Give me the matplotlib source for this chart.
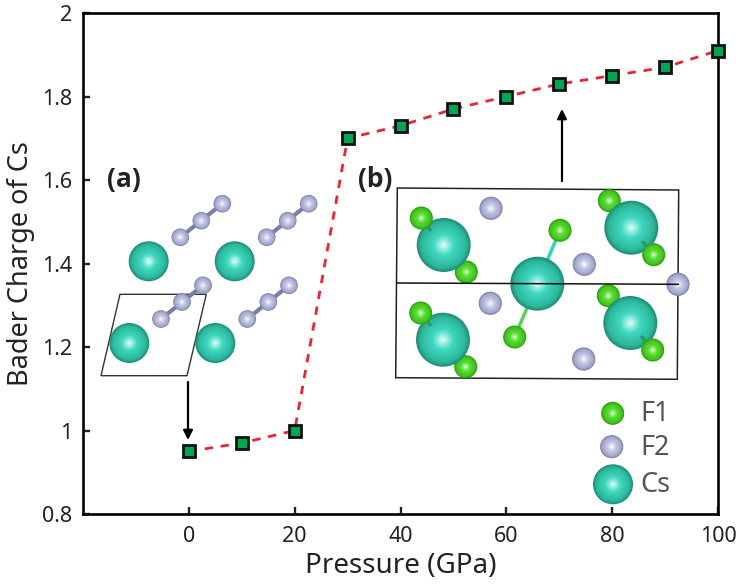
import numpy as np
import matplotlib
matplotlib.use('Agg')
import matplotlib.pyplot as plt
from matplotlib.patches import Circle, Polygon

plt.rcParams['font.family'] = ['Noto Sans', 'DejaVu Sans']

pressure = [0, 10, 20, 30, 40, 50, 60, 70, 80, 90, 100]
charge = [0.95, 0.97, 1.0, 1.7, 1.73, 1.77, 1.8, 1.83, 1.85, 1.87, 1.91]
xticks = [0, 20, 40, 60, 80, 100]
yticks = [0.8, 1, 1.2, 1.4, 1.6, 1.8, 2]
yticklabels = ['0.8', '1', '1.2', '1.4', '1.6', '1.8', '2']

# atom sketches, in image pixels
cs_a = [(148.7, 261.3), (234.7, 261.3), (129.3, 343), (215.3, 343)]
chains_a = [[(180.3, 237.3), (201.3, 220.7), (222.3, 203.7)],
            [(266.7, 237.3), (287.7, 220.7), (308.7, 203.7)],
            [(161, 319), (182, 302), (203, 285.3)],
            [(247.3, 319), (268.3, 302), (289, 285.3)]]
cell_a = [(120, 294.3), (206.3, 294.3), (187, 375.7), (101, 375.7)]
cell_b = [(397.3, 188), (678.7, 190), (677.3, 379.3), (395.7, 377.7)]
mid_b = [(396.7, 283), (678.3, 284.3)]
f1_back = [(466.3, 272), (609.3, 200.7), (465.7, 366.7), (608.3, 295.7)]
f1_front = [(421.3, 218), (653.7, 254.7), (420.7, 313), (652.7, 350)]
f1_bonded = [(560, 230.3), (514.7, 337)]
f2_b = [(491, 208.3), (584.3, 264.3), (678, 284.3), (490.3, 303.3), (583.7, 359)]
cs_b = [(443.7, 245), (537.3, 283.7), (631.3, 227.7), (443, 339.7), (630.3, 323)]

CS = ['#1f9078', '#2cb89c', '#3fd8c0', '#e8ffff']
F1 = ['#2f9a10', '#3fc418', '#5cdc38', '#e0ffd4']
F2 = ['#7f83a8', '#a2a6ca', '#c4c8e4', '#ffffff']

fig = plt.figure(figsize=(7.4, 5.87), dpi=100)
ax = fig.add_axes([83 / 740, 1 - 514 / 587, (718 - 83) / 740, (514 - 13) / 587])

ax.plot(pressure, charge, ls=(0, (3, 2.8)), color='#ee2233', lw=2, zorder=2, clip_on=False)
ax.plot(pressure, charge, ls='none', marker='s', ms=8, mfc='#00a651', mec='#111111', mew=2,
        zorder=3, clip_on=False)

ax.set_xlim(-20, 100)
ax.set_ylim(0.8, 2)
ax.set_xticks(xticks)
ax.set_yticks(yticks)
ax.set_yticklabels(yticklabels)
ax.tick_params(direction='in', length=5, width=1.7, labelsize=15.5, colors='#222222')
ax.tick_params(axis='x', pad=9)
ax.tick_params(axis='y', pad=8)
for s in ax.spines.values():
    s.set_linewidth(1.9)
ax.set_xlabel('Pressure (GPa)', fontsize=20, color='#222222', labelpad=3)
ax.set_ylabel('Bader Charge of Cs', fontsize=19.5, color='#222222', labelpad=5)

# overlay in pixel coordinates for the crystal sketches
ov = fig.add_axes([0, 0, 1, 1], facecolor='none')
ov.set_xlim(0, 740)
ov.set_ylim(587, 0)
ov.axis('off')


def atom(xy, r, cols, z):
    rgb = np.array([matplotlib.colors.to_rgb(c) for c in cols])
    stops = [1.0, 0.85, 0.4, 0.0]
    for f in np.linspace(1, 0.04, 24):
        c = [np.interp(f, stops[::-1], rgb[::-1, k]) for k in range(3)]
        ov.add_patch(Circle(xy, r * f, fc=c, ec='none', zorder=z))


def bond(p, q, color, lw, z):
    ov.plot([p[0], q[0]], [p[1], q[1]], color=color, lw=lw, zorder=z, solid_capstyle='butt')


ov.add_patch(Polygon(cell_a, closed=True, fill=False, ec='#333333', lw=1, zorder=1))
ov.add_patch(Polygon(cell_b, closed=True, fill=False, ec='#222222', lw=1.1, zorder=1))

for p in cs_a:
    atom(p, 20, CS, 2)
for ch in chains_a:
    bond(ch[0], ch[2], '#7a7ea6', 3, 3)
    for p in ch:
        atom(p, 8.8, F2, 4)

for p in f1_back:
    atom(p, 11.5, F1, 2)
bond(f1_bonded[0], cs_b[1], '#30d8b0', 2.5, 2)
bond(f1_bonded[1], cs_b[1], '#50d850', 2.5, 2)
for p in cs_b:
    atom(p, 27, CS, 3)
bond(f1_front[0], (431, 231), '#2a9a70', 2.5, 4)
bond(f1_front[2], (431, 326), '#2a9a70', 2.5, 4)
bond(f1_front[1], (642, 241), '#2a9a70', 2.5, 4)
bond(f1_front[3], (641, 336), '#2a9a70', 2.5, 4)
for p in f1_front + f1_bonded:
    atom(p, 11.5, F1, 5)
for p in f2_b:
    atom(p, 11.6, F2, 5)
ov.plot([mid_b[0][0], mid_b[1][0]], [mid_b[0][1], mid_b[1][1]], color='#111111', lw=1.1, zorder=6)

# legend
atom((612.7, 413.3), 11.5, F1, 5)
atom((611.7, 446.7), 11.6, F2, 5)
atom((613, 484.3), 20, CS, 5)
ov.text(640, 414, 'F1', fontsize=19.5, color='#555555', va='center', ha='left')
ov.text(640, 448, 'F2', fontsize=19.5, color='#555555', va='center', ha='left')
ov.text(640, 485, 'Cs', fontsize=19.5, color='#555555', va='center', ha='left')

ov.text(107, 180, '(a)', fontsize=19, fontweight='bold', family='Open Sans', color='#222222', va='center')
ov.text(358, 179, '(b)', fontsize=19, fontweight='bold', family='Open Sans', color='#222222', va='center')

ov.annotate('', xy=(188, 440), xytext=(188, 382),
            arrowprops=dict(arrowstyle='-|>', color='black', lw=1.6, mutation_scale=14, shrinkA=0, shrinkB=0))
ov.annotate('', xy=(562, 109), xytext=(562, 181),
            arrowprops=dict(arrowstyle='-|>', color='black', lw=1.6, mutation_scale=14, shrinkA=0, shrinkB=0))

fig.savefig('out.png', dpi=100)
